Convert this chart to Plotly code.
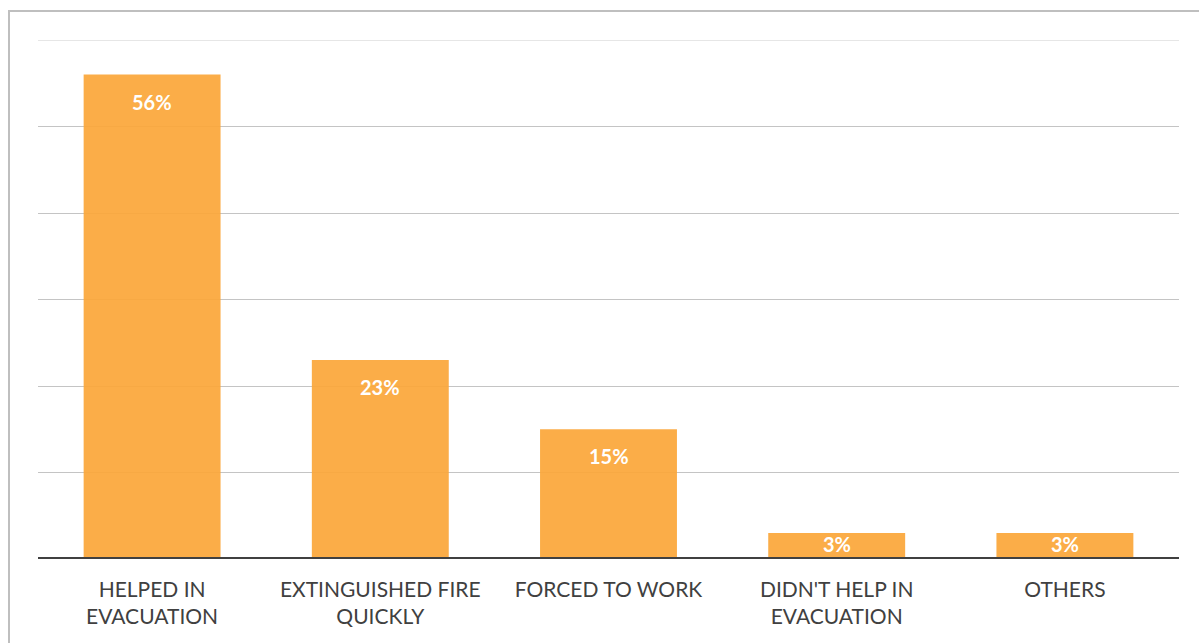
import plotly.graph_objects as go

# Survey answers and their share of responses (%)
categories = [
    "HELPED IN<br>EVACUATION",
    "EXTINGUISHED FIRE<br>QUICKLY",
    "FORCED TO WORK",
    "DIDN'T HELP IN<br>EVACUATION",
    "OTHERS",
]
shares = [56, 23, 15, 3, 3]
share_labels = ["56%", "23%", "15%", "3%", "3%"]

W, H = 1199, 643
M_L, M_R, M_T, M_B = 38, 20, 40, 84
Y_MAX = 60
plot_h = H - M_T - M_B
plot_w = W - M_L - M_R

fig = go.Figure(
    go.Bar(
        x=categories,
        y=shares,
        width=0.6,
        marker=dict(color="#FBA638", opacity=0.92, line=dict(width=0)),
        hoverinfo="skip",
    )
)

# value labels sitting just inside the top of each bar
px_per_unit = plot_h / Y_MAX
for cat, val, lab in zip(categories, shares, share_labels):
    bar_px = val * px_per_unit
    fig.add_annotation(
        x=cat, y=val, text=f"<b>{lab}</b>", showarrow=False,
        yanchor="middle", yshift=-min(27, bar_px / 2 - 2),
        font=dict(family="Lato", size=20, color="white"),
    )

# lighter top gridline
fig.add_shape(type="line", xref="paper", yref="y", x0=0, x1=1,
              y0=Y_MAX, y1=Y_MAX, line=dict(color="#DEDEDE", width=1.5),
              layer="below")

# dark baseline along the category axis
fig.add_shape(type="line", xref="paper", yref="y", x0=0, x1=1, y0=0, y1=0,
              line=dict(color="#404040", width=4), layer="above")

# outer chart frame
fig.add_shape(type="rect", xref="paper", yref="paper",
              x0=(9 - M_L) / plot_w, x1=1 + 40 / plot_w,
              y0=-200 / plot_h, y1=1 + (M_T - 11) / plot_h,
              line=dict(color="#BFBFBF", width=2), fillcolor="rgba(0,0,0,0)",
              layer="below")

fig.update_layout(
    width=W, height=H,
    margin=dict(l=M_L, r=M_R, t=M_T, b=M_B),
    paper_bgcolor="white", plot_bgcolor="white",
    showlegend=False, bargap=0.4,
    font=dict(family="Lato", color="#404040"),
    xaxis=dict(showgrid=False, showline=False, ticks="",
               tickfont=dict(family="Lato", size=21, color="#404040"),
               ticklabelstandoff=16, fixedrange=True),
    yaxis=dict(range=[0, Y_MAX], dtick=10, showticklabels=False,
               showgrid=True, gridcolor="#C4C4C4", gridwidth=1.3,
               zeroline=False, showline=False, fixedrange=True),
)

fig.write_html("out.html", config={"displayModeBar": False})
